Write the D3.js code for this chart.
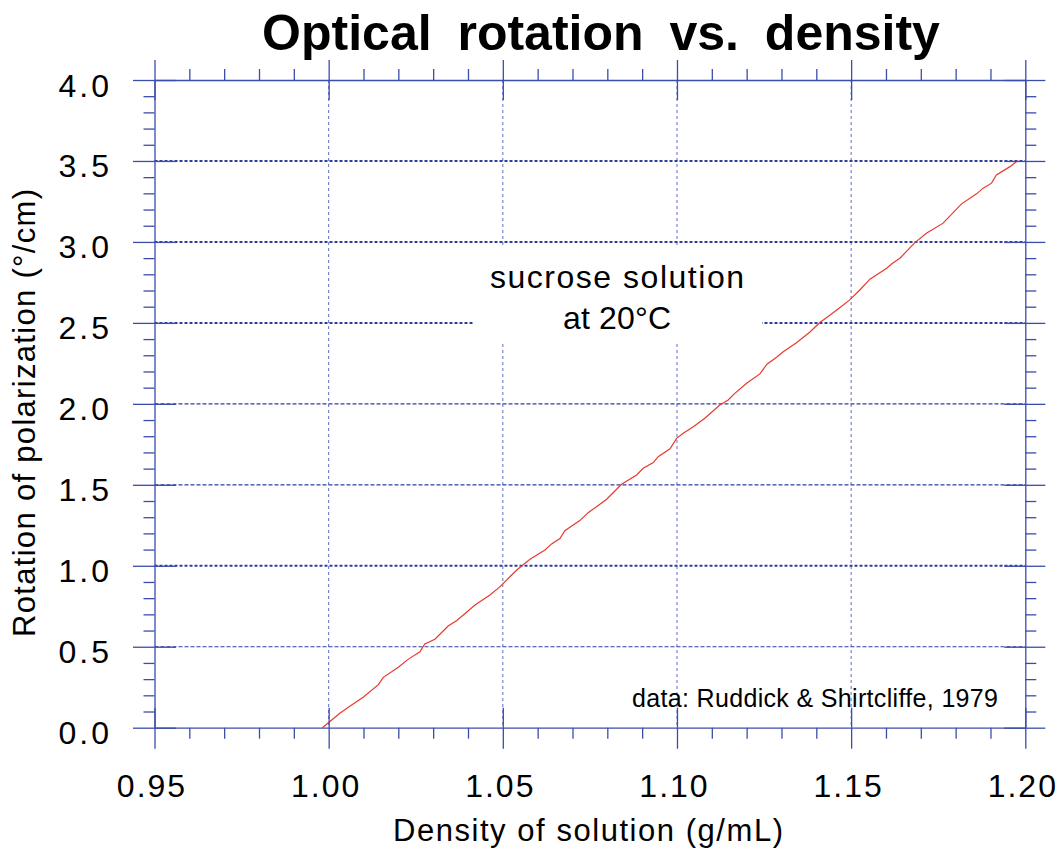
<!DOCTYPE html>
<html>
<head>
<meta charset="utf-8">
<script src="https://cdn.jsdelivr.net/npm/d3@7"></script>
<style>
body { margin: 0; background: #fff; }
text { font-family: "Liberation Sans", Arial, Helvetica, sans-serif; fill: #000; }
</style>
</head>
<body>
<svg id="chart" width="1062" height="855"></svg>
<script>
// sucrose solution at 20C
var density = [0.9982, 1.0032, 1.0066, 1.0099, 1.0142, 1.0157, 1.0200, 1.0228, 1.0262, 1.0276,
               1.0305, 1.0343, 1.0367, 1.0396, 1.0420, 1.0463, 1.0492, 1.0540, 1.0578, 1.0621,
               1.0640, 1.0664, 1.0678, 1.0721, 1.0745, 1.0769, 1.0798, 1.0841, 1.0884, 1.0903,
               1.0932, 1.0946, 1.0980, 1.0999, 1.1018, 1.1047, 1.1080, 1.1123, 1.1147, 1.1166,
               1.1200, 1.1238, 1.1259, 1.1286, 1.1305, 1.1343, 1.1381, 1.1410, 1.1434, 1.1468,
               1.1496, 1.1525, 1.1554, 1.1602, 1.1616, 1.1640, 1.1683, 1.1716, 1.1764, 1.1817,
               1.1860, 1.1879, 1.1903, 1.1917, 1.1956, 1.1977];
var rotation = [0.000, 0.089, 0.140, 0.188, 0.264, 0.311, 0.373, 0.422, 0.469, 0.517,
                0.546, 0.628, 0.661, 0.713, 0.758, 0.820, 0.871, 0.974, 1.040, 1.098,
                1.135, 1.168, 1.217, 1.279, 1.328, 1.365, 1.411, 1.503, 1.561, 1.602,
                1.637, 1.674, 1.723, 1.787, 1.818, 1.859, 1.911, 1.993, 2.024, 2.065,
                2.127, 2.185, 2.246, 2.288, 2.322, 2.378, 2.442, 2.502, 2.539, 2.595,
                2.642, 2.703, 2.770, 2.838, 2.864, 2.899, 2.996, 3.054, 3.116, 3.235,
                3.297, 3.332, 3.363, 3.414, 3.465, 3.500];

var xMajor = [0.95, 1.00, 1.05, 1.10, 1.15, 1.20];
var xTickLabels = ["0.95", "1.00", "1.05", "1.10", "1.15", "1.20"];
var yMajor = [0, 0.5, 1.0, 1.5, 2.0, 2.5, 3.0, 3.5, 4.0];
var yTickLabels = ["0.0", "0.5", "1.0", "1.5", "2.0", "2.5", "3.0", "3.5", "4.0"];

var svg = d3.select("#chart");
var axisColor = "#3b4dab";

var x = d3.scaleLinear().domain([0.95, 1.20]).range([154.5, 1025.3]);
var y = d3.scaleLinear().domain([0, 4]).range([727.7, 80]);

// minor ticks: every 0.01 and every 0.1
var xMinor = x.ticks(25).filter(function(d) { return Math.abs(d * 20 - Math.round(d * 20)) > 1e-6; });
var yMinor = y.ticks(40).filter(function(d) { return Math.abs(d * 2 - Math.round(d * 2)) > 1e-6; });

//grid lines
var vGrid = xMajor.slice(1, -1);
var hGrid = yMajor.slice(1, -1);
var heavy = [1.0, 2.5, 3.0, 3.5];

svg.append("g").selectAll("line").data(vGrid).enter().append("line")
    .attr("x1", function(d) { return x(d); })
    .attr("x2", function(d) { return x(d); })
    .attr("y1", y(4)).attr("y2", y(0))
    .attr("stroke", "#5f6fbf")
    .attr("stroke-width", 1)
    .attr("stroke-dasharray", "3,3");

svg.append("g").selectAll("line").data(hGrid).enter().append("line")
    .attr("x1", x(0.95)).attr("x2", x(1.20))
    .attr("y1", function(d) { return y(d); })
    .attr("y2", function(d) { return y(d); })
    .attr("stroke", "#2c3f9c")
    .attr("stroke-width", function(d) { return heavy.indexOf(d) >= 0 ? 2 : 1.2; })
    .attr("stroke-dasharray", function(d) { return heavy.indexOf(d) >= 0 ? "3,2" : "4,2"; });

// white box behind the annotation
svg.append("rect")
    .attr("x", 473).attr("y", 245)
    .attr("width", 289).attr("height", 99)
    .attr("fill", "#fff");

// the data curve
var line = d3.line()
    .x(function(d, i) { return x(density[i]); })
    .y(function(d, i) { return y(rotation[i]); });

svg.append("path")
    .datum(density)
    .attr("d", line)
    .attr("fill", "none")
    .attr("stroke", "#e8392e")
    .attr("stroke-width", 1.2);

function styleAxis(g) {
    g.attr("color", axisColor).attr("font-family", null);
    g.selectAll("line").attr("stroke-width", 1.3);
    g.select(".domain").attr("stroke-width", 1.3);
}
function noDomain(g) {
    g.select(".domain").remove();
}

// bottom
svg.append("g").attr("transform", "translate(0,727.7)")
    .call(d3.axisBottom(x).tickValues(xMajor).tickSize(21).tickSizeOuter(0).tickPadding(26)
        .tickFormat(function(d, i) { return xTickLabels[i]; }))
    .call(styleAxis)
    .selectAll("text")
    .attr("font-size", 32)
    .attr("dx", -3)
    .style("letter-spacing", "2px");
svg.append("g").attr("transform", "translate(0,727.7)")
    .call(d3.axisBottom(x).tickValues(xMinor).tickSize(11).tickSizeOuter(0).tickFormat(""))
    .call(styleAxis).call(noDomain);
svg.append("g").attr("transform", "translate(0,727.7)")
    .call(d3.axisTop(x).tickValues(xMajor).tickSize(20).tickSizeOuter(0).tickFormat(""))
    .call(styleAxis).call(noDomain);

// top
svg.append("g").attr("transform", "translate(0,80)")
    .call(d3.axisTop(x).tickValues(xMajor).tickSize(20).tickSizeOuter(0).tickFormat(""))
    .call(styleAxis);
svg.append("g").attr("transform", "translate(0,80)")
    .call(d3.axisTop(x).tickValues(xMinor).tickSize(11).tickSizeOuter(0).tickFormat(""))
    .call(styleAxis).call(noDomain);
svg.append("g").attr("transform", "translate(0,80)")
    .call(d3.axisBottom(x).tickValues(xMajor).tickSize(20).tickSizeOuter(0).tickFormat(""))
    .call(styleAxis).call(noDomain);

// left
svg.append("g").attr("transform", "translate(154.5,0)")
    .call(d3.axisLeft(y).tickValues(yMajor).tickSize(21.5).tickSizeOuter(0).tickPadding(21)
        .tickFormat(function(d, i) { return yTickLabels[i]; }))
    .call(styleAxis)
    .selectAll("text")
    .attr("font-size", 32)
    .attr("dy", "0.5em")
    .style("letter-spacing", "3px");
svg.append("g").attr("transform", "translate(154.5,0)")
    .call(d3.axisLeft(y).tickValues(yMinor).tickSize(11).tickSizeOuter(0).tickFormat(""))
    .call(styleAxis).call(noDomain);
svg.append("g").attr("transform", "translate(154.5,0)")
    .call(d3.axisRight(y).tickValues(yMajor).tickSize(21.5).tickSizeOuter(0).tickFormat(""))
    .call(styleAxis).call(noDomain);

// right
svg.append("g").attr("transform", "translate(1025.3,0)")
    .call(d3.axisRight(y).tickValues(yMajor).tickSize(20).tickSizeOuter(0).tickFormat(""))
    .call(styleAxis);
svg.append("g").attr("transform", "translate(1025.3,0)")
    .call(d3.axisRight(y).tickValues(yMinor).tickSize(11).tickSizeOuter(0).tickFormat(""))
    .call(styleAxis).call(noDomain);
svg.append("g").attr("transform", "translate(1025.3,0)")
    .call(d3.axisLeft(y).tickValues(yMajor).tickSize(21).tickSizeOuter(0).tickFormat(""))
    .call(styleAxis).call(noDomain);

// titles and labels
svg.append("text")
    .attr("x", 601).attr("y", 50)
    .attr("text-anchor", "middle")
    .style("font-size", "50px").style("font-weight", "bold")
    .style("word-spacing", "12px")
    .text("Optical rotation vs. density");

svg.append("text")
    .attr("x", 588).attr("y", 841)
    .attr("text-anchor", "middle")
    .attr("textLength", 390).attr("lengthAdjust", "spacing")
    .style("font-size", "31px")
    .text("Density of solution (g/mL)");

svg.append("text")
    .attr("transform", "translate(35,413) rotate(-90)")
    .attr("text-anchor", "middle")
    .attr("textLength", 448).attr("lengthAdjust", "spacing")
    .style("font-size", "31px")
    .text("Rotation of polarization (\u00B0/cm)");

svg.append("text")
    .attr("x", 617).attr("y", 288)
    .attr("text-anchor", "middle")
    .attr("textLength", 254).attr("lengthAdjust", "spacing")
    .style("font-size", "32px")
    .text("sucrose solution");

svg.append("text")
    .attr("x", 617).attr("y", 329)
    .attr("text-anchor", "middle")
    .attr("textLength", 108).attr("lengthAdjust", "spacing")
    .style("font-size", "32px")
    .text("at 20\u00B0C");

svg.append("text")
    .attr("x", 632).attr("y", 707)
    .attr("textLength", 366).attr("lengthAdjust", "spacing")
    .style("font-size", "25px")
    .text("data: Ruddick & Shirtcliffe, 1979");
</script>
</body>
</html>
